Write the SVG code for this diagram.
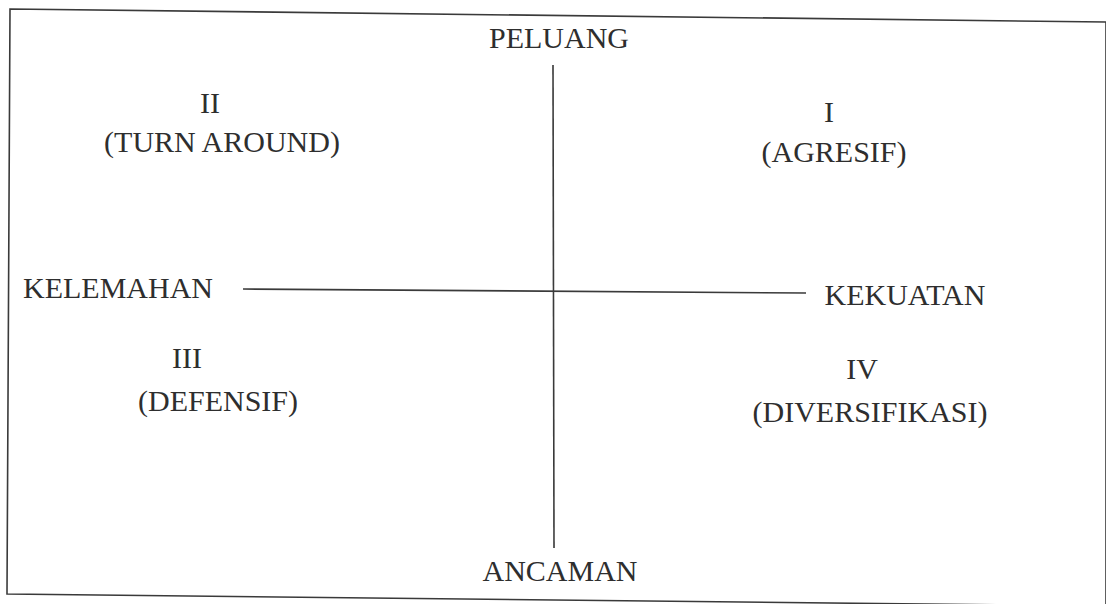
<svg xmlns="http://www.w3.org/2000/svg" width="1106" height="604" viewBox="0 0 1106 604">
<style>
.t{font-family:"Liberation Serif","Times New Roman",serif;font-size:30px;fill:#2e2e2e;text-anchor:middle}
.ln{stroke:#3a3a3a;stroke-width:1.6;fill:none}
</style>
<rect width="1106" height="604" fill="#ffffff"/>
<polygon class="ln" points="10,9 1106,22 1106,606 7,594"/>
<g id="connectors">
<line class="ln" x1="553" y1="65" x2="554" y2="548"/>
<line class="ln" x1="243" y1="289" x2="806" y2="293"/>
</g>
<g id="peluang"><text class="t" x="559" y="48">PELUANG</text></g>
<g id="ancaman"><text class="t" x="560" y="581">ANCAMAN</text></g>
<g id="kelemahan"><text class="t" x="118" y="298">KELEMAHAN</text></g>
<g id="kekuatan"><text class="t" x="905" y="305">KEKUATAN</text></g>
<g id="q2"><text class="t" x="210" y="113">II</text><text class="t" x="222" y="152">(TURN AROUND)</text></g>
<g id="q1"><text class="t" x="829" y="122">I</text><text class="t" x="834" y="162">(AGRESIF)</text></g>
<g id="q3"><text class="t" x="187" y="368">III</text><text class="t" x="218" y="411">(DEFENSIF)</text></g>
<g id="q4"><text class="t" x="862" y="379">IV</text><text class="t" x="870" y="422">(DIVERSIFIKASI)</text></g>
</svg>
